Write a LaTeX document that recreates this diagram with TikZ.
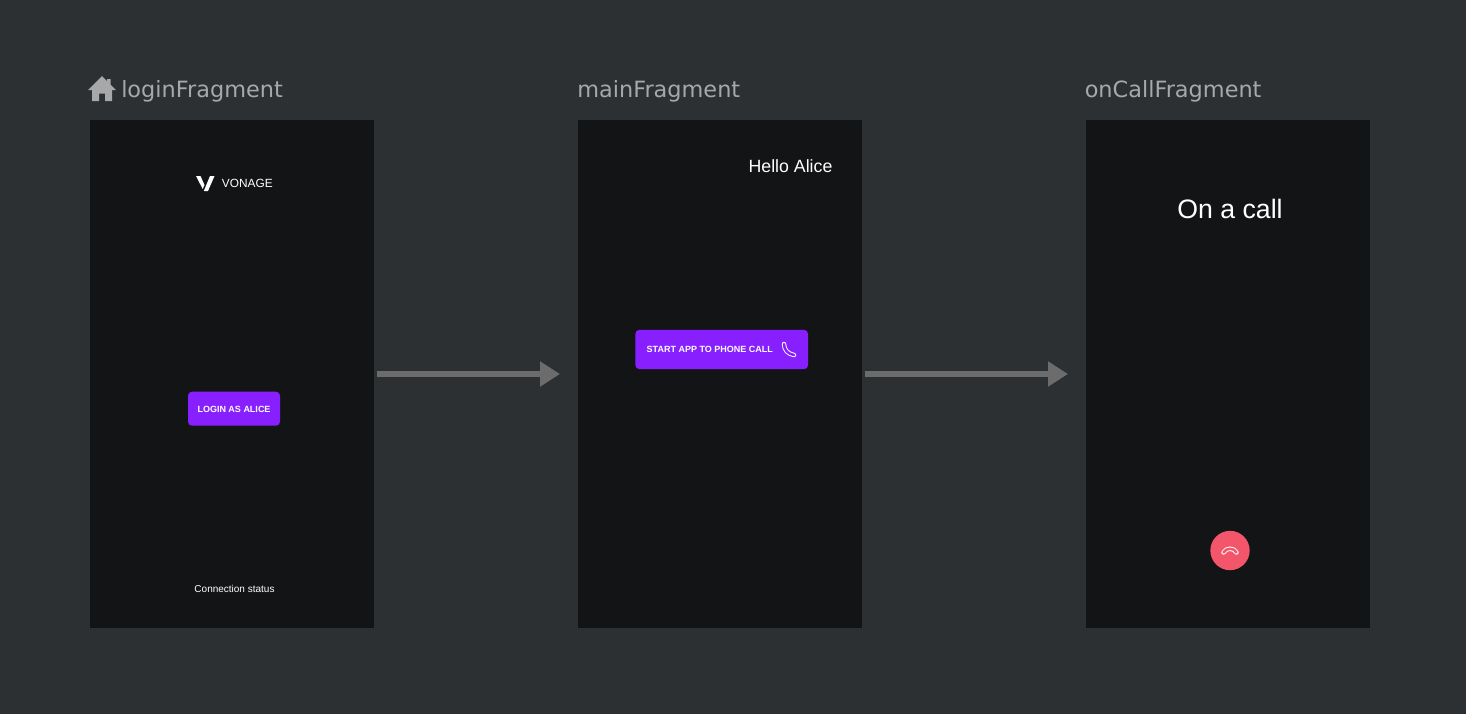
\documentclass[tikz,border=0pt]{standalone}
\usepackage{fontspec}
\setmainfont{Liberation Sans}
\newfontfamily\titlefont{DejaVu Sans}
\usetikzlibrary{arrows.meta,positioning}
\definecolor{pagebg}{HTML}{2C3033}
\definecolor{screenbg}{HTML}{131416}
\definecolor{titlegray}{HTML}{A6A8AA}
\definecolor{flowgray}{HTML}{6C6C6C}
\definecolor{btnpurple}{HTML}{871FFF}
\definecolor{hangred}{HTML}{F3566B}
\newcommand{\sized}[1]{\fontsize{#1}{#1}\selectfont}

\begin{document}
\begin{tikzpicture}[x=0.75pt, y=-0.75pt]

	\tikzset{
	screen/.style={fill=screenbg, minimum width=213pt, minimum height=381pt, inner sep=0pt, outer sep=0pt},
	fragname/.style={text=titlegray, anchor=base west, inner sep=0pt, font=\titlefont\sized{16.8}},
	flow/.style={draw=flowgray, line width=4.5pt, -{Triangle[length=15pt,width=18pt]}},
	pill/.style={fill=btnpurple, rounded corners=3pt, inner sep=0pt},
	pilltext/.style={text=white, inner sep=0pt, font=\sized{6.75}\bfseries},
	screentext/.style={text=white, inner sep=0pt},
	icon/.style={draw=white, line width=0.7pt, double=#1, double distance=1.9pt, line cap=round}
	}

	\fill[pagebg] (0,0) rectangle (1466,714);
	\useasboundingbox (0,0) rectangle (1466,714);

	% Screens
	\node[screen] (login) at (232,374) {};
	\node[screen, right=153pt of login] (main) {};
	\node[screen, right=168pt of main] (oncall) {};

	% Titles
	\node[fragname] (logintitle) at (121,97.5) {loginFragment};
	\node[fragname] (maintitle) at (577,97.5) {mainFragment};
	\node[fragname] (oncalltitle) at (1084.5,97.5) {onCallFragment};

	% Home icon
	\fill[titlegray] (102,76) -- (107,81) -- (107,79) -- (110.5,79) -- (110.5,84.5) -- (116,90) -- (112,90) -- (112,101)
		-- (105,101) -- (105,93.5) -- (99,93.5) -- (99,101) -- (92,101) -- (92,90) -- (88,90) -- cycle;

	% Login screen
	\fill[white] (196,176) -- (200.5,176) -- (204.5,185) -- (202.7,189) -- cycle;
	\fill[white] (210,176) -- (214.5,176) -- (208,191) -- (203.8,191) -- cycle;
	\node[screentext, font=\sized{8.9}] (vonage) at (247.3,183.7) {VONAGE};
	\node[pill, minimum width=69pt, minimum height=25.5pt] (loginbtn) at (234,408.7) {};
	\node[pilltext] (logintext) at (234,409) {LOGIN AS ALICE};
	\node[screentext, font=\sized{7.5}] (status) at (234.5,589) {Connection status};

	% Main screen
	\node[screentext, font=\sized{13.3}] (hello) at (790.5,166.5) {Hello Alice};
	\node[pill, minimum width=129.5pt, minimum height=29.5pt] (callbtn) at (721.7,349.5) {};
	\node[pilltext, right=8.5pt of callbtn.west] (calltext) {START APP TO PHONE CALL};
	\draw[icon=btnpurple] (784,344) .. controls (784,350) and (788,354) .. (794,355);

	% Call screen
	\node[screentext, font=\sized{20}] (onacall) at (1230,208.5) {On a call};
	\node[circle, fill=hangred, minimum size=29.5pt, inner sep=0pt] (hangup) at (1230,550.5) {};
	\draw[icon=hangred] (1223.5,552.5) .. controls (1226,547.5) and (1234,547.5) .. (1236.5,552.5);

	% Lines
	\draw[flow, shorten <=2.25pt, shorten >=13.5pt] (login) -- (main);
	\draw[flow, shorten <=2.25pt, shorten >=13.5pt] (main) -- (oncall);

\end{tikzpicture}
\end{document}
